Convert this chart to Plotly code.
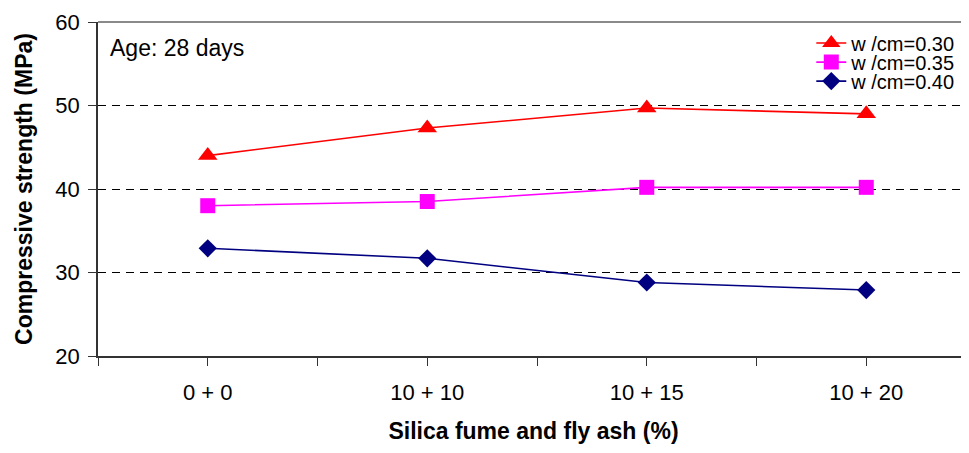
import plotly.graph_objects as go

categories = ["0 + 0", "10 + 10", "10 + 15", "10 + 20"]
wcm_030 = [44.0, 47.3, 49.7, 49.0]
wcm_035 = [38.0, 38.5, 40.2, 40.2]
wcm_040 = [32.9, 31.7, 28.8, 27.9]
series_names = ["w /cm=0.30", "w /cm=0.35", "w /cm=0.40"]
y_ticks = [20, 30, 40, 50, 60]

FONT = "Liberation Sans, Arial, sans-serif"
x_idx = list(range(len(categories)))

fig = go.Figure()
styles = [
    (wcm_030, "#FF0000", "triangle-up", 17, "legend"),
    (wcm_035, "#FF00FF", "square", 15, "legend2"),
    (wcm_040, "#000080", "diamond", 14, "legend3"),
]
for (vals, col, sym, sz, lg), name in zip(styles, series_names):
    fig.add_trace(go.Scatter(
        x=x_idx, y=vals, name=name, mode="lines+markers",
        line=dict(color=col, width=1.6),
        marker=dict(symbol=sym, size=sz, color=col, line=dict(width=0)),
        legend=lg,
    ))

# ticks at category centers and boundaries (Excel style)
tickvals = [i * 0.5 - 0.5 for i in range(9)]
ticktext = [categories[int(v)] if float(v).is_integer() else "" for v in tickvals]

def leg(y):
    return dict(x=0.99, y=y, xanchor="right", yanchor="middle",
                bgcolor="rgba(0,0,0,0)", font=dict(size=20, family=FONT),
                itemsizing="trace")

fig.update_layout(
    width=961, height=445,
    margin=dict(l=90, r=0, t=14, b=97),
    paper_bgcolor="white", plot_bgcolor="white",
    font=dict(family=FONT, color="black", size=22),
    showlegend=True,
    legend=leg(0.937), legend2=leg(0.880), legend3=leg(0.823),
    xaxis=dict(
        range=[-0.5, 3.468], tickmode="array", tickvals=tickvals, ticktext=ticktext,
        ticks="outside", ticklen=8, tickwidth=1, tickcolor="#333",
        showline=True, linecolor="#333", linewidth=1.5, showgrid=False, zeroline=False,
        tickfont=dict(size=22), ticklabelstandoff=8,
        title=dict(text="<b>Silica fume and fly ash (%)</b>", font=dict(size=23), standoff=19),
    ),
    yaxis=dict(
        range=[20, 60], tickmode="array", tickvals=y_ticks,
        ticks="outside", ticklen=8, tickwidth=1, tickcolor="#333",
        showline=True, linecolor="#333", linewidth=1.5,
        showgrid=True, gridcolor="black", gridwidth=1, griddash="8px,6px",
        zeroline=False, tickfont=dict(size=22), ticklabelstandoff=4,
        title=dict(text="<b>Compressive strength (MPa)</b>", font=dict(size=23), standoff=16),
    ),
    annotations=[dict(text="Age: 28 days", x=0.0115, y=0.922, xref="paper", yref="paper",
                      xanchor="left", yanchor="middle", showarrow=False,
                      font=dict(size=23, family=FONT))],
    shapes=[dict(type="line", xref="paper", yref="paper", x0=0, x1=1, y0=1, y1=1,
                 line=dict(color="#8a8a8a", width=2))],
)

fig.write_html("out.html")
